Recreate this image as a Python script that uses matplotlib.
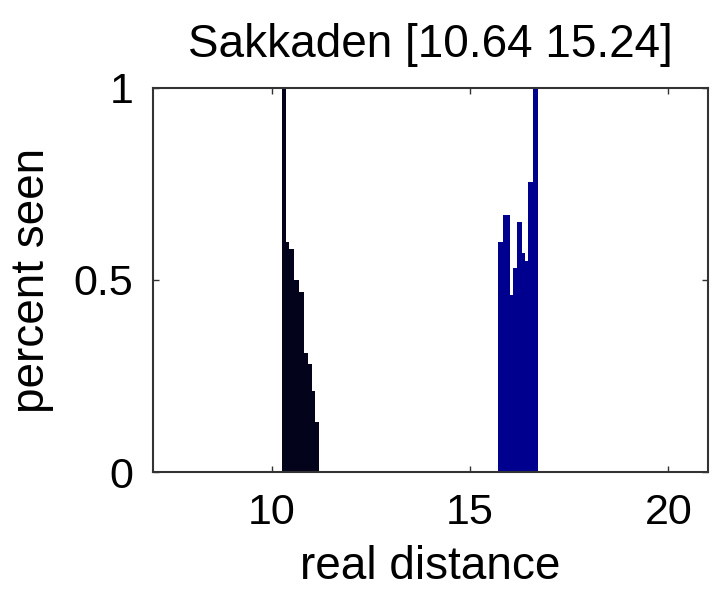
import numpy as np
import matplotlib
matplotlib.use('Agg')
import matplotlib.pyplot as plt

plt.rcParams['font.family'] = ['Liberation Sans', 'DejaVu Sans']

# bin edges (real distance) and fraction seen
near_edges = [10.25, 10.35, 10.44, 10.56, 10.69, 10.81, 10.92, 11.02, 11.09, 11.19]
near_seen = [1.0, 0.60, 0.58, 0.50, 0.47, 0.31, 0.28, 0.21, 0.13]

far_edges = [15.71, 15.83, 16.00, 16.07, 16.17, 16.30, 16.38, 16.47, 16.59, 16.71]
far_seen = [0.60, 0.67, 0.46, 0.53, 0.65, 0.57, 0.55, 0.755, 1.0]

title_txt = 'Sakkaden [10.64 15.24]'

fig = plt.figure(figsize=(7.17, 5.92), dpi=100)
ax = fig.add_axes([0.2134, 0.2027, 0.7740, 0.6487])

ax.stairs(near_seen, near_edges, fill=True, color='#03031c')
ax.stairs(far_seen, far_edges, fill=True, color='#00008f')

ax.set_xlim(7, 21)
ax.set_ylim(0, 1)
ax.set_xticks([10, 15, 20])
ax.set_yticks([0, 0.5, 1])
ax.set_yticklabels(['0', '0.5', '1'])
ax.tick_params(direction='in', length=4, width=1, labelsize=31, color='#333333',
               top=True, right=True)
ax.tick_params(axis='x', pad=15)
ax.tick_params(axis='y', pad=14)
for s in ax.spines.values():
    s.set_linewidth(1.5)
    s.set_color('#333333')

ax.set_xlabel('real distance', fontsize=33, labelpad=9)
ax.set_ylabel('percent seen', fontsize=33, labelpad=14)
ax.set_title(title_txt, fontsize=33, pad=22)

plt.savefig('out.png', dpi=100)
